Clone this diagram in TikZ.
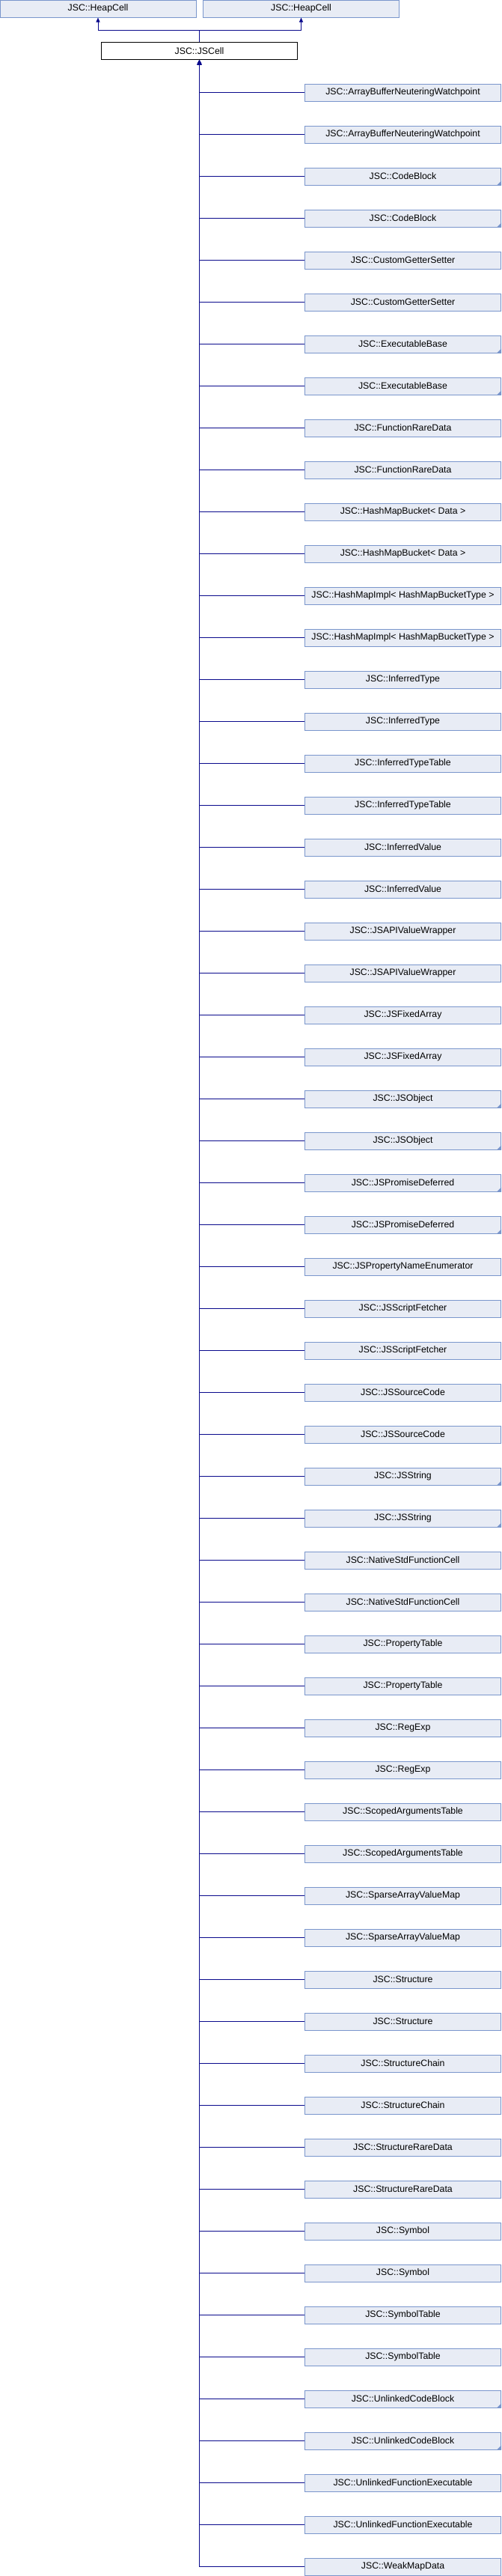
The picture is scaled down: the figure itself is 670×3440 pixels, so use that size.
\documentclass[tikz,border=0pt]{standalone}
\usepackage{fontspec}
\setmainfont{Liberation Sans}
\usetikzlibrary{arrows.meta}

\definecolor{boxfill}{RGB}{232,236,245}
\definecolor{boxedge}{RGB}{122,150,204}
\definecolor{linkblue}{RGB}{10,10,140}

\tikzset{
  cls/.style={rectangle, draw=boxedge, fill=boxfill, line width=1pt, minimum width=262pt, minimum height=23pt, inner sep=0pt, font=\fontsize{12.3pt}{14pt}\selectfont},
  curcls/.style={cls, draw=black, fill=white},
  inh/.style={draw=linkblue, line width=1pt, -{Triangle[length=6pt,width=5pt]}}
}

\begin{document}
\begin{tikzpicture}[x=1pt, y=1pt]
            \useasboundingbox (0,0) rectangle (670,-3440);

            % Nodes
            \node[cls] (heap1) at (131, -11.5) {JSC::HeapCell};
            \node[cls] (heap2) at (402.5, -11.5) {JSC::HeapCell};
            \node[curcls] (jscell) at (266.5, -68) {JSC::JSCell};

            \foreach \name [count=\i] in {ArrayBufferNeuteringWatchpoint, ArrayBufferNeuteringWatchpoint,
              CodeBlock, CodeBlock, CustomGetterSetter, CustomGetterSetter, ExecutableBase, ExecutableBase,
              FunctionRareData, FunctionRareData, HashMapBucket< Data >, HashMapBucket< Data >,
              HashMapImpl< HashMapBucketType >, HashMapImpl< HashMapBucketType >, InferredType, InferredType,
              InferredTypeTable, InferredTypeTable, InferredValue, InferredValue, JSAPIValueWrapper,
              JSAPIValueWrapper, JSFixedArray, JSFixedArray, JSObject, JSObject, JSPromiseDeferred,
              JSPromiseDeferred, JSPropertyNameEnumerator, JSScriptFetcher, JSScriptFetcher, JSSourceCode,
              JSSourceCode, JSString, JSString, NativeStdFunctionCell, NativeStdFunctionCell, PropertyTable,
              PropertyTable, RegExp, RegExp, ScopedArgumentsTable, ScopedArgumentsTable, SparseArrayValueMap,
              SparseArrayValueMap, Structure, Structure, StructureChain, StructureChain, StructureRareData,
              StructureRareData, Symbol, Symbol, SymbolTable, SymbolTable, UnlinkedCodeBlock,
              UnlinkedCodeBlock, UnlinkedFunctionExecutable, UnlinkedFunctionExecutable, WeakMapData}
              \node[cls] (c\i) at (538.5, {-123.5-56*(\i-1)}) {JSC::\name};

            % Corner marks
            \foreach \i in {3,4,7,8,25,26,27,28,34,35,56,57}
              \fill[boxedge] (c\i.south east) -- ++(-6,0) -- ++(6,6) -- cycle;

            % Arrows
            \draw[inh] (jscell.north) -- ++(0,16) -| (heap1.south);
            \draw[inh] (jscell.north) -- ++(0,16) -| (heap2.south);

            \foreach \i in {1,...,60}
              \draw[inh] (c\i.west) -| (jscell.south);
\end{tikzpicture}
\end{document}
